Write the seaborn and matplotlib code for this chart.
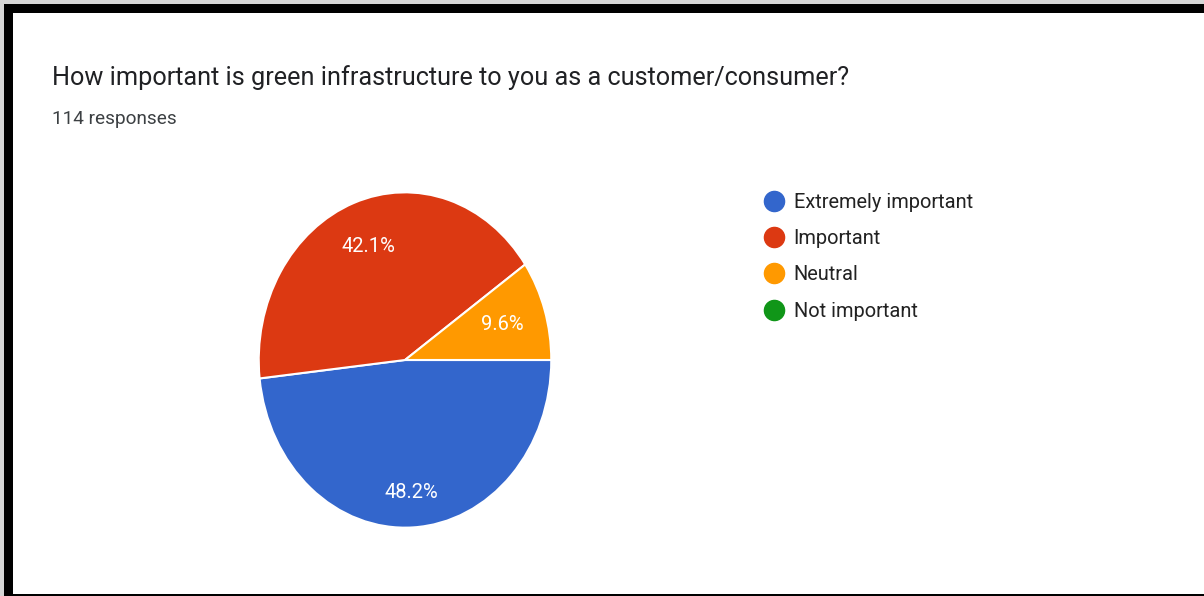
import matplotlib
matplotlib.use("Agg")
import numpy as np
import matplotlib.pyplot as plt
from matplotlib.lines import Line2D
from matplotlib.patches import Rectangle
import seaborn as sns

# Survey answers (114 responses)
categories = ["Extremely important", "Important", "Neutral", "Not important"]
counts = [55, 48, 11, 0]
colors = ["#3366CC", "#DC3912", "#FF9900", "#109618"]

title = "How important is green infrastructure to you as a customer/consumer?"
subtitle = f"{sum(counts)} responses"

sns.set_theme(style="white")
plt.rcParams["font.family"] = ["Roboto", "DejaVu Sans"]

W, H, DPI = 1204, 596, 100
fig = plt.figure(figsize=(W / DPI, H / DPI), dpi=DPI, facecolor="white")


def px_box(x0, y0, x1, y1):
    """Pixel box (top-left origin) -> figure-fraction rect."""
    return [x0 / W, 1 - y1 / H, (x1 - x0) / W, (y1 - y0) / H]


# Pie (slightly taller than wide)
ax = fig.add_axes(px_box(258, 191.5, 552, 528.5))
vals = [v for v in counts if v > 0]
cols = [c for v, c in zip(counts, colors) if v > 0]
wedges, _, autotexts = ax.pie(
    vals,
    colors=cols,
    startangle=0,
    counterclock=False,
    radius=1.0,
    autopct=lambda p: f"{p:.1f}%",
    pctdistance=0.74,
    wedgeprops=dict(edgecolor="white", linewidth=1.5),
    textprops=dict(color="white", fontsize=14.5),
)
# radial placement of each percentage label along its wedge bisector
label_radius = [0.79, 0.72, 0.70]
for w, t, r in zip(wedges, autotexts, label_radius):
    mid = np.deg2rad((w.theta1 + w.theta2) / 2)
    t.set_position((r * np.cos(mid), r * np.sin(mid)))
ax.set_aspect("auto")
ax.set_xlim(-1.005, 1.005)
ax.set_ylim(-1.005, 1.005)
ax.axis("off")

# Legend with round markers
handles = [
    Line2D([0], [0], marker="o", linestyle="", markersize=14.5,
           markerfacecolor=c, markeredgecolor=c)
    for c in colors
]
leg = fig.legend(
    handles, categories,
    loc="upper left",
    bbox_to_anchor=(762 / W, 1 - 193 / H),
    frameon=False,
    fontsize=14.4,
    labelspacing=0.86,
    handletextpad=0.38,
    handlelength=1.2,
    borderpad=0,
    borderaxespad=0,
)
for t in leg.get_texts():
    t.set_color("#222222")

# Heading
fig.text(52 / W, 1 - 78 / H, title, fontsize=18.2, color="#202124",
         ha="left", va="center")
fig.text(52 / W, 1 - 119 / H, subtitle, fontsize=13.7, color="#3c4043",
         ha="left", va="center")

# Frame around the card
frame_ax = fig.add_axes([0, 0, 1, 1], zorder=-1)
frame_ax.set_xlim(0, W)
frame_ax.set_ylim(H, 0)
frame_ax.axis("off")
frame_ax.add_patch(Rectangle((0, 0), W, 4, color="#d6d6d6", lw=0))
frame_ax.add_patch(Rectangle((0, 0), 4, H, color="#d6d6d6", lw=0))
frame_ax.add_patch(Rectangle((4, 4), W - 4, 8.5, color="black", lw=0))
frame_ax.add_patch(Rectangle((4, 4), 8.5, H - 4, color="black", lw=0))
frame_ax.add_patch(Rectangle((4, 594), W - 4, 2, color="black", lw=0))

fig.savefig("out.png", dpi=DPI, facecolor=fig.get_facecolor())
